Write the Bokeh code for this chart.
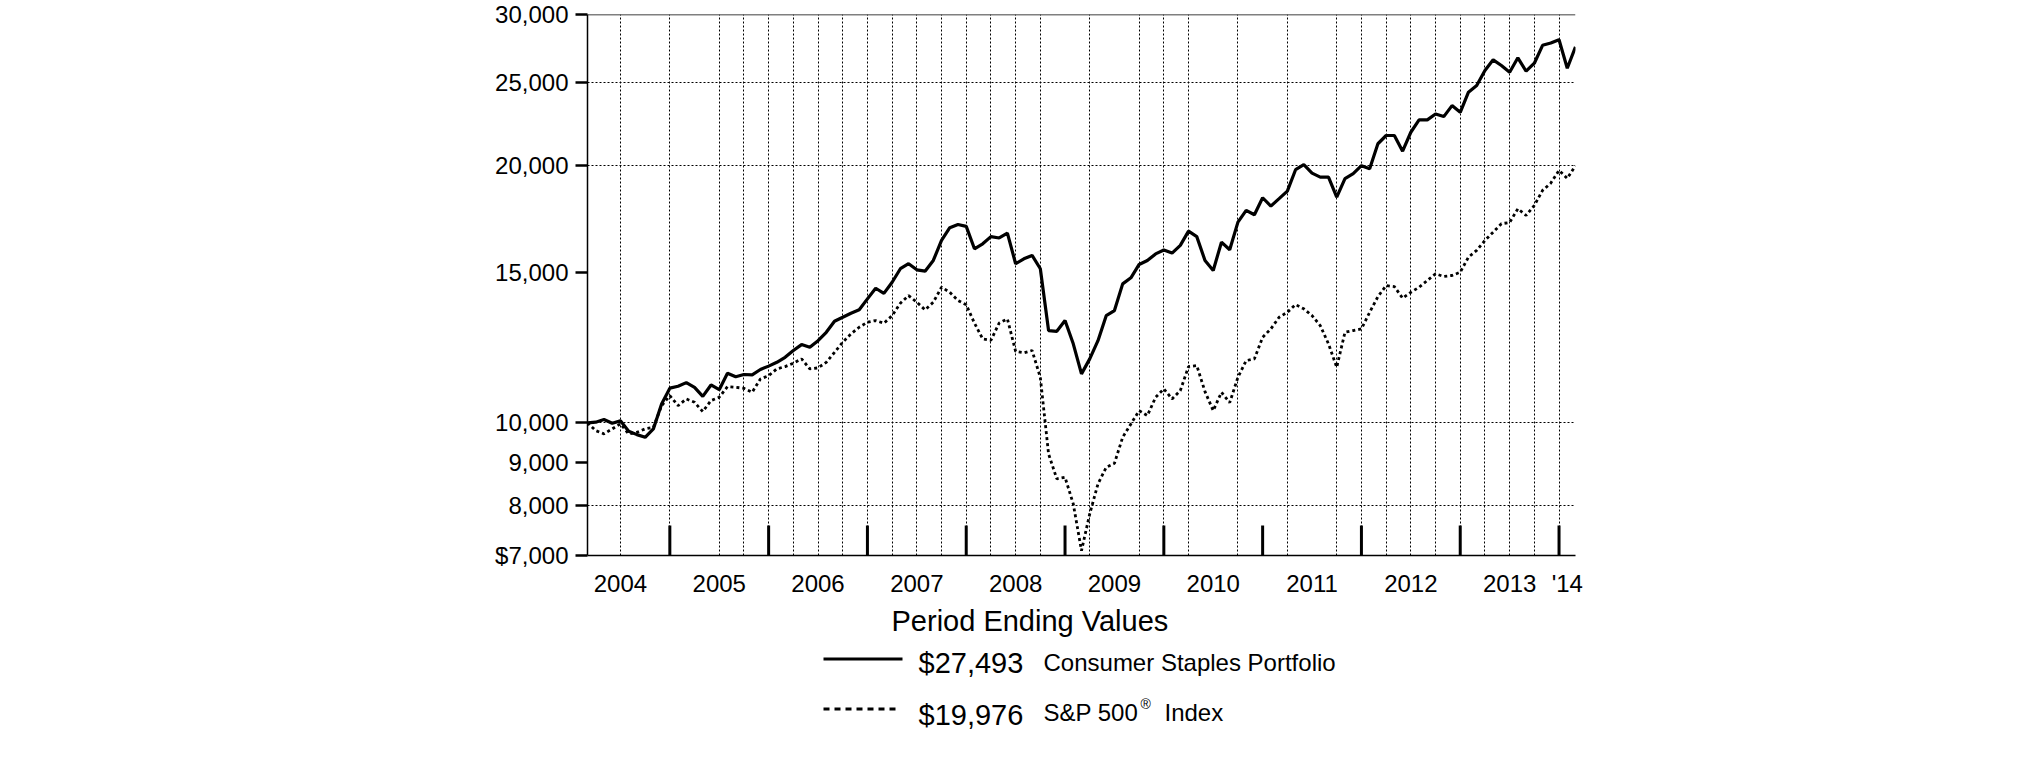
import numpy as np
from bokeh.plotting import figure
from bokeh.models import Range1d, FixedTicker, Span
from bokeh.layouts import column
from bokeh.core.properties import value
from bokeh.embed import file_html
from bokeh.resources import INLINE

# ---------------- data (month-end values, Feb 2004 .. Feb 2014) ----------------
portfolio = [
    10000, 10020, 10090, 9990, 10055, 9780, 9690, 9620, 9840, 10525,
    10980, 11035, 11145, 11005, 10740, 11075, 10935, 11430, 11320, 11390,
    11380, 11545, 11650, 11770, 11930, 12150, 12345, 12255, 12475, 12760,
    13145, 13285, 13430, 13555, 13960, 14365, 14170, 14600, 15140, 15345,
    15095, 15040, 15480, 16335, 16905, 17055, 16965, 15975, 16190, 16505,
    16445, 16660, 15345, 15550, 15690, 15140, 12820, 12795, 13170, 12370,
    11410, 11880, 12475, 13345, 13530, 14535, 14775, 15315, 15480, 15755,
    15920, 15790, 16120, 16750, 16505, 15480, 15070, 16260, 15935, 17160,
    17710, 17505, 18325, 17915, 18280, 18655, 19760, 20030, 19580, 19370,
    19370, 18355, 19290, 19550, 19975, 19815, 21190, 21665, 21665, 20770,
    21855, 22595, 22595, 22960, 22795, 23480, 23060, 24340, 24780, 25800,
    26555, 26150, 25685, 26700, 25755, 26315, 27615, 27785, 28035, 25960,
    27493,
]
sp500 = [
    10000, 9795, 9710, 9840, 9975, 9710, 9750, 9840, 9880, 10475,
    10760, 10475, 10665, 10570, 10310, 10620, 10715, 11025, 11005, 10975,
    10860, 11255, 11355, 11565, 11635, 11740, 11880, 11565, 11595, 11770,
    12090, 12425, 12705, 12935, 13110, 13170, 13075, 13345, 13800, 14085,
    13835, 13555, 13835, 14405, 14210, 13900, 13740, 13080, 12536, 12490,
    13080, 13228, 12120, 12075, 12150, 11300, 9200, 8603, 8640, 8043,
    7092, 7829, 8487, 8874, 8969, 9620, 9973, 10336, 10198, 10713,
    10958, 10667, 10908, 11636, 11668, 10879, 10336, 10858, 10561, 11305,
    11825, 11880, 12590, 12878, 13286, 13466, 13749, 13591, 13346, 12993,
    12368, 11614, 12761, 12820, 12878, 13466, 14045, 14469, 14430, 13987,
    14211, 14404, 14667, 14935, 14827, 14867, 14999, 15619, 15906, 16336,
    16705, 17088, 17147, 17791, 17473, 17951, 18690, 19062, 19724, 19303,
    19976,
]
FIRST_MONTH = 2  # months counted after Dec 2003 -> Feb 2004
months = list(range(FIRST_MONTH, FIRST_MONTH + len(portfolio)))

year_labels = ["2004", "2005", "2006", "2007", "2008", "2009", "2010",
               "2011", "2012", "2013", "'14"]
year_label_months = [6, 18, 30, 42, 54, 66, 78, 90, 102, 114, 121]
year_end_months = [12, 24, 36, 48, 60, 72, 84, 96, 108, 120]
grid_months = [6, 12, 18, 21, 24, 27, 30, 33, 36, 39, 42, 45, 48, 51, 54, 57,
               63, 69, 72, 75, 81, 87, 93, 96, 99, 102, 105, 108, 111, 114,
               117, 120]
y_ticks = [7000, 8000, 9000, 10000, 15000, 20000, 25000, 30000]
y_tick_labels = ["$7,000", "8,000", "9,000", "10,000", "15,000", "20,000",
                 "25,000", "30,000"]
y_grid = [8000, 10000, 20000, 25000]

legend_title = "Period Ending Values"
legend_values = ["$27,493", "$19,976"]
legend_names = ["Consumer Staples Portfolio", "S&P 500", "®", "Index"]

FONT = "Liberation Sans"
X0, X1 = 2, 122
Y0, Y1 = 7000, 30000

# ---------------- chart ----------------
W = 2000
LEFT, TOPB = 587, 14
FRAME_W, FRAME_H = 988, 541
H1 = 600
p = figure(width=W, height=H1, x_range=Range1d(X0, X1), y_range=Range1d(Y0, Y1),
           y_axis_type="log", output_backend="svg", toolbar_location=None,
           min_border_left=LEFT, min_border_right=W - LEFT - FRAME_W,
           min_border_top=TOPB, min_border_bottom=H1 - TOPB - FRAME_H)
p.outline_line_color = None
p.background_fill_color = "white"
p.border_fill_color = "white"

# grids
p.xgrid.ticker = FixedTicker(ticks=grid_months)
p.xgrid.grid_line_color = "black"
p.xgrid.grid_line_dash = "2 2"
p.xgrid.grid_line_width = 1
p.ygrid.ticker = FixedTicker(ticks=y_grid)
p.ygrid.grid_line_color = "black"
p.ygrid.grid_line_dash = "2 2"
p.ygrid.grid_line_width = 1

# y axis
p.yaxis.ticker = FixedTicker(ticks=y_ticks)
p.yaxis.major_label_overrides = {t: l for t, l in zip(y_ticks, y_tick_labels)}
p.yaxis.minor_tick_line_color = None
p.yaxis.major_tick_in = 0
p.yaxis.major_tick_out = 12
p.yaxis.major_tick_line_width = 2.5
p.yaxis.axis_line_width = 1.5
p.yaxis.major_label_standoff = 7
p.yaxis.major_label_text_font = FONT
p.yaxis.major_label_text_font_size = "24px"
p.yaxis.major_label_text_color = "black"

# x axis
p.xaxis.ticker = FixedTicker(ticks=year_label_months)
p.xaxis.major_label_overrides = {t: l for t, l in zip(year_label_months, year_labels)}
p.xaxis.major_tick_line_color = None
p.xaxis.minor_tick_line_color = None
p.xaxis.axis_line_width = 1.5
p.xaxis.major_label_standoff = 8
p.xaxis.major_label_text_font = FONT
p.xaxis.major_label_text_font_size = "24px"
p.xaxis.major_label_text_color = "black"

# top border
p.add_layout(Span(location=Y1, dimension="width", line_color="black", line_width=1.5))

# year-end ticks rising from the bottom axis (30 px tall)
tick_top = Y0 * (Y1 / Y0) ** (30 / FRAME_H)
p.segment(x0=year_end_months, y0=[Y0] * len(year_end_months),
          x1=year_end_months, y1=[tick_top] * len(year_end_months),
          line_color="black", line_width=3)

# series
p.line(months, sp500, line_color="black", line_width=2.8, line_dash="3 3")
p.line(months, portfolio, line_color="black", line_width=3.2)

# ---------------- legend block (coordinates = page pixels) ----------------
H2 = 150
leg = figure(width=W, height=H2, x_range=Range1d(LEFT, LEFT + FRAME_W),
             y_range=Range1d(H1 + H2, H1),
             x_axis_type=None, y_axis_type=None, output_backend="svg",
             toolbar_location=None,
             min_border_left=LEFT, min_border_right=W - LEFT - FRAME_W,
             min_border_top=0, min_border_bottom=0)
leg.outline_line_color = None
leg.background_fill_color = "white"
leg.border_fill_color = "white"

DY = -9  # baseline correction
leg.text(x=[891], y=[629.5 + DY], text=[legend_title], text_font=value(FONT),
         text_font_size="29px", text_baseline="alphabetic", text_color="black")
leg.line([823, 902], [658.5, 658.5], line_color="black", line_width=3.2)
leg.line([823, 900], [708.5, 708.5], line_color="black", line_width=2.8, line_dash="6 5")
leg.text(x=[918, 918], y=[671.5 + DY, 723.3 + DY], text=legend_values, text_font=value(FONT),
         text_font_size="29px", text_baseline="alphabetic", text_color="black")
leg.text(x=[1043, 1043, 1164], y=[671 + DY, 720.7 + DY, 720.7 + DY],
         text=[legend_names[0], legend_names[1], legend_names[3]], text_font=value(FONT),
         text_font_size="24px", text_baseline="alphabetic", text_color="black")
leg.text(x=[1140], y=[712 + DY], text=[legend_names[2]], text_font=value(FONT),
         text_font_size="14px", text_baseline="alphabetic", text_color="black")

layout = column(p, leg)
open("out.html", "w").write(file_html(layout, INLINE))
